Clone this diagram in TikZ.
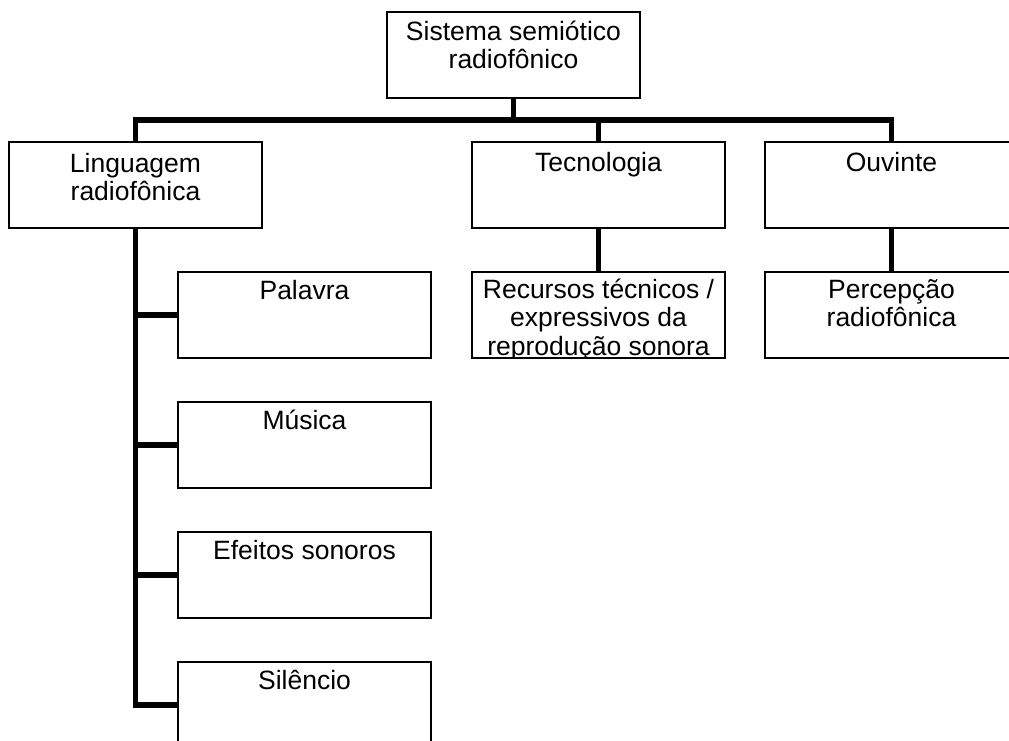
\documentclass[tikz,border=0pt]{standalone}
\usepackage{fontspec}
\setmainfont{Liberation Sans}
\usetikzlibrary{calc}
\begin{document}
\begin{tikzpicture}[x=1pt,y=-1pt,
  box/.style={draw, line width=1.5pt, rectangle, inner sep=0pt, outer sep=0pt,
    minimum width=253pt, minimum height=86pt, anchor=north west},
  lbl/.style={font=\fontsize{26.5}{28}\selectfont, align=center, inner sep=0pt, anchor=base},
  conn/.style={line width=5.5pt, line join=miter, line cap=butt}
]
\useasboundingbox (0,0) rectangle (1009,740);
\clip (0,0) rectangle (1009,740);

% boxes
\node[box] (b-top) at (387,12) {};
\node[box] (b-ling) at (9,142) {};
\node[box] (b-tec) at (472,142) {};
\node[box] (b-ouv) at (765,142) {};
\node[box] (b-pal) at (178,272) {};
\node[box] (b-mus) at (178,402) {};
\node[box] (b-efe) at (178,532) {};
\node[box] (b-sil) at (178,662) {};
\node[box] (b-rec) at (472,272) {};
\node[box] (b-per) at (765,272) {};

% connectors
\coordinate (j0) at ($(b-top.south)+(0,22)$);
\draw[conn] (b-top.south) -- (j0);
\draw[conn] (b-ling.north) -- (b-ling.north |- j0) -- (b-ouv.north |- j0) -- (b-ouv.north);
\draw[conn] (b-tec.north |- j0) -- (b-tec.north);
\draw[conn] (b-ling.south) |- (b-sil.west);
\draw[conn] (b-ling.south |- b-pal.west) -- (b-pal.west);
\draw[conn] (b-ling.south |- b-mus.west) -- (b-mus.west);
\draw[conn] (b-ling.south |- b-efe.west) -- (b-efe.west);
\draw[conn] (b-tec.south) -- (b-rec.north);
\draw[conn] (b-ouv.south) -- (b-per.north);

% texts (anchor base = baseline of last line)
\node[lbl] (t-top) at ($(b-top.north)+(0,28+28)$) {Sistema semiótico\\radiofônico};
\node[lbl] (t-ling) at ($(b-ling.north)+(0,30+28)$) {Linguagem\\radiofônica};
\node[lbl] (t-tec) at ($(b-tec.north)+(0,29)$) {Tecnologia};
\node[lbl] (t-ouv) at ($(b-ouv.north)+(0,29)$) {Ouvinte};
\node[lbl] (t-pal) at ($(b-pal.north)+(0,27)$) {Palavra};
\node[lbl] (t-mus) at ($(b-mus.north)+(0,27)$) {Música};
\node[lbl] (t-efe) at ($(b-efe.north)+(0,27)$) {Efeitos sonoros};
\node[lbl] (t-sil) at ($(b-sil.north)+(0,27)$) {Silêncio};
\node[lbl] (t-per) at ($(b-per.north)+(0,26+28)$) {Percepção\\radiofônica};
\begin{scope}
  \clip (b-rec.north west) rectangle (b-rec.south east);
  \node[lbl, font=\fontsize{26.5}{28.5}\selectfont] (t-rec) at ($(b-rec.north)+(0,26+57)$) {Recursos técnicos /\\expressivos da\\reprodução sonora};
\end{scope}
\end{tikzpicture}
\end{document}
